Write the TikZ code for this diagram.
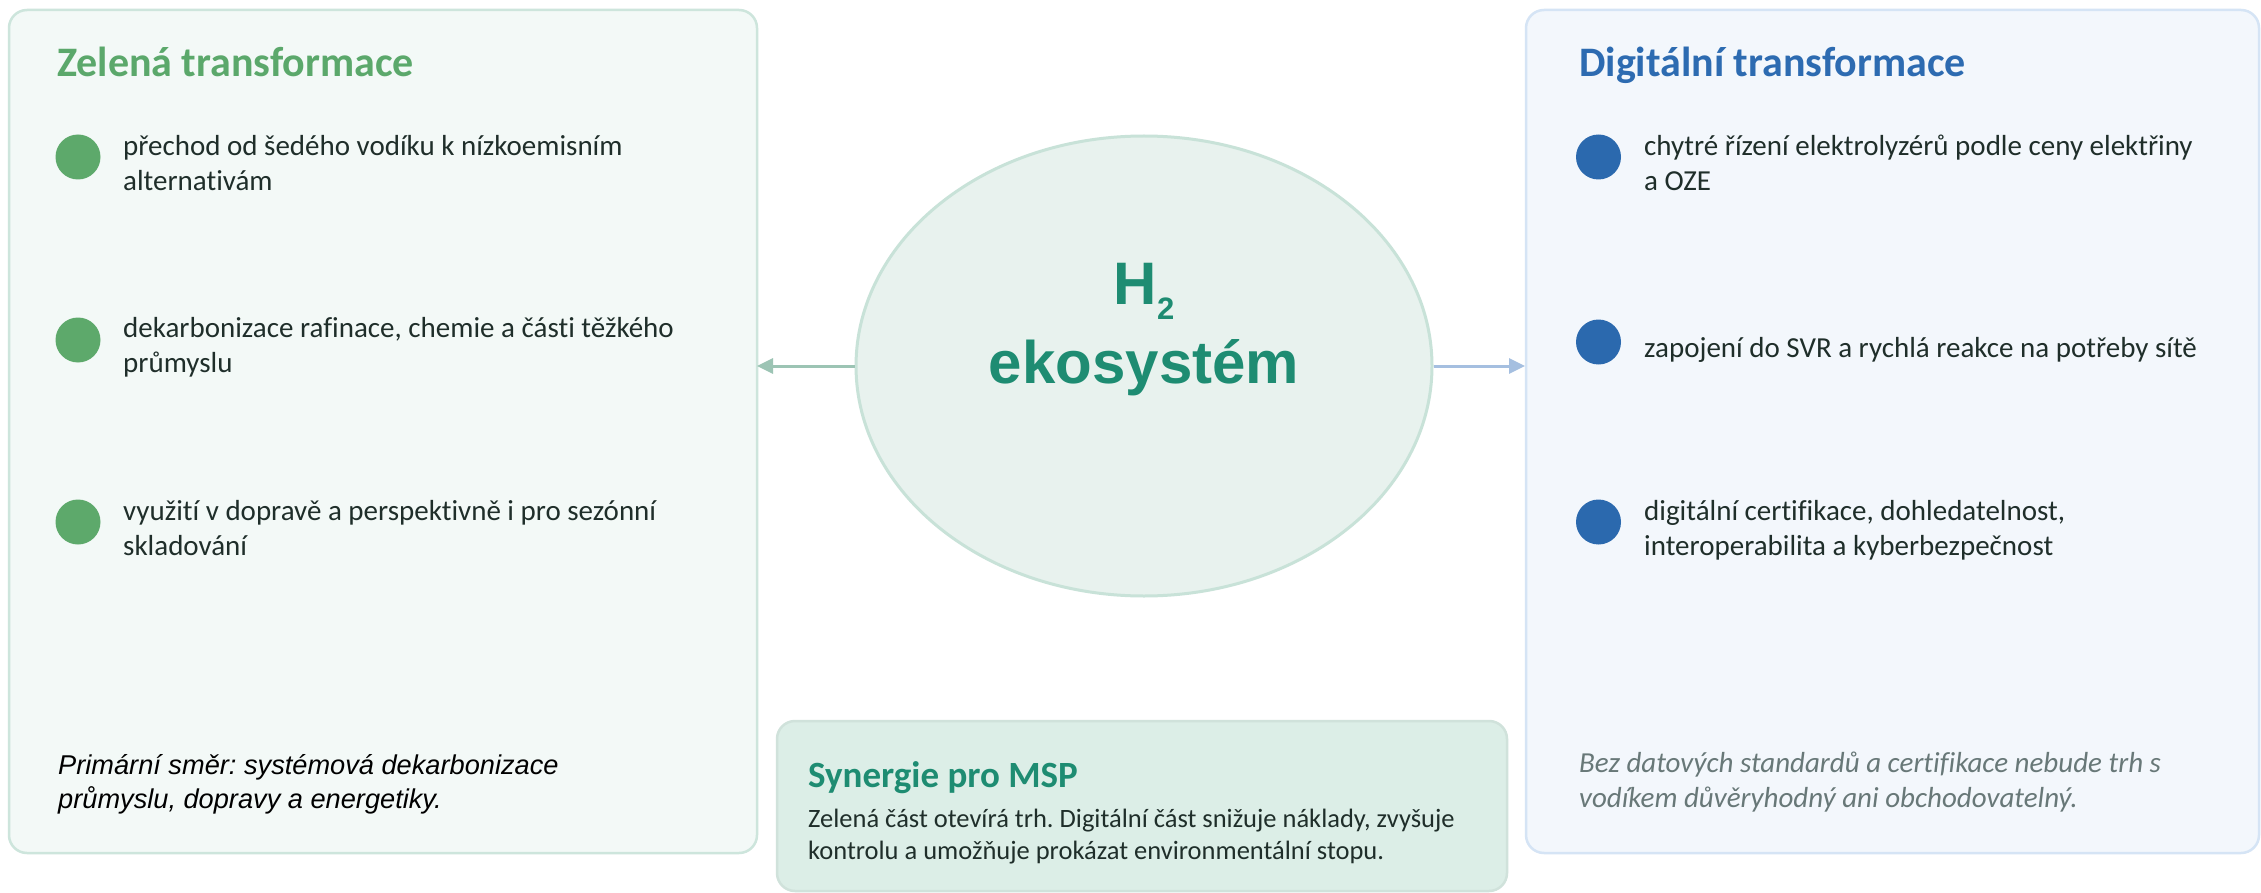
\documentclass[tikz,border=0pt]{standalone}
\usepackage{fontspec}
\setmainfont{Carlito}[Ligatures=NoCommon]
\newfontfamily\hfont{Liberation Sans}
\usetikzlibrary{arrows.meta,shapes.geometric}
\definecolor{leftfill}{HTML}{F3F9F7}
\definecolor{leftborder}{HTML}{CDE5DC}
\definecolor{rightfill}{HTML}{F3F7FC}
\definecolor{rightborder}{HTML}{D5E4F5}
\definecolor{ellfill}{HTML}{E8F2EE}
\definecolor{ellborder}{HTML}{C8E2D8}
\definecolor{synfill}{HTML}{DCEEE7}
\definecolor{synborder}{HTML}{D0E2DB}
\definecolor{greentitle}{HTML}{5BA86B}
\definecolor{greenbullet}{HTML}{5DA96B}
\definecolor{bluetitle}{HTML}{2D6BB1}
\definecolor{bluebullet}{HTML}{2B69AE}
\definecolor{teal}{HTML}{1E8C72}
\definecolor{bodytext}{HTML}{1F2E2A}
\definecolor{graytext}{HTML}{687878}
\definecolor{arrowleft}{HTML}{9CC4B4}
\definecolor{arrowright}{HTML}{A5BFE0}
\tikzset{
  panel/.style={rounded corners=18pt, line width=2.5pt},
  title/.style={anchor=base west, inner sep=0pt, font=\bfseries\fontsize{42}{50}\selectfont},
  item/.style={anchor=base west, inner sep=0pt, align=left, text=bodytext, font=\fontsize{29}{35}\selectfont},
  dot/.style={circle, minimum size=45pt, inner sep=0pt},
  link/.style={line width=3pt, -{Triangle[length=16pt,width=15pt]}},
}
\frenchspacing
\begin{document}
\begin{tikzpicture}[x=1pt,y=-1pt]
\clip (0,0) rectangle (2261,893);
\fill[white] (0,0) rectangle (2261,893);
% panels
\draw[panel, fill=leftfill, draw=leftborder] (9,10) rectangle (757,853);
\coordinate (leftE) at (757,366);
\draw[panel, fill=rightfill, draw=rightborder] (1526,10) rectangle (2259,853);
\coordinate (rightW) at (1525,366);
\draw[panel, fill=synfill, draw=synborder] (777,721) rectangle (1507,891);
% left panel content (base anchor = last line baseline)
\node[title, text=greentitle] (lt) at (57,77) {Zelená transformace};
\node[dot, fill=greenbullet] (lb1) at (78,157) {};
\node[item] (li1) at (123,191) {přechod od šedého vodíku k nízkoemisním\\alternativám};
\node[dot, fill=greenbullet] (lb2) at (78,340) {};
\node[item] (li2) at (123,372) {dekarbonizace rafinace, chemie a části těžkého\\průmyslu};
\node[dot, fill=greenbullet] (lb3) at (78,522) {};
\node[item] (li3) at (123,555) {využití v dopravě a perspektivně i pro sezónní\\skladování};
\node[item, text=black, font=\hfont\itshape\fontsize{27.2}{34}\selectfont] (lf) at (58,808) {Primární směr: systémová dekarbonizace\\průmyslu, dopravy a energetiky.};
% right panel content
\node[title, text=bluetitle] (rt) at (1579,77) {Digitální transformace};
\node[dot, fill=bluebullet] (rb1) at (1598.5,157) {};
\node[item] (ri1) at (1644,191) {chytré řízení elektrolyzérů podle ceny elektřiny\\a OZE};
\node[dot, fill=bluebullet] (rb2) at (1598.5,342) {};
\node[item] (ri2) at (1644,357) {zapojení do SVR a rychlá reakce na potřeby sítě};
\node[dot, fill=bluebullet] (rb3) at (1598.5,522) {};
\node[item] (ri3) at (1644,555) {digitální certifikace, dohledatelnost,\\interoperabilita a kyberbezpečnost};
\node[item, text=graytext, font=\itshape\fontsize{29}{35}\selectfont] (rf) at (1579,807) {Bez datových standardů a certifikace nebude trh s\\vodíkem důvěryhodný ani obchodovatelný.};
% synergy
\node[anchor=base west, inner sep=0pt, text=teal, font=\bfseries\fontsize{37}{44}\selectfont] (st) at (808,787) {Synergie pro MSP};
\node[item, font=\fontsize{26.5}{32}\selectfont] (sb) at (808,859) {Zelená část otevírá trh. Digitální část snižuje náklady, zvyšuje\\kontrolu a umožňuje prokázat environmentální stopu.};
% ellipse
\node[ellipse, minimum width=576pt, minimum height=460pt, inner sep=0pt, fill=ellfill, draw=ellborder, line width=3pt] (eco) at (1144,366) {};
\node[anchor=base, inner sep=0pt, text=teal, font=\hfont\bfseries\fontsize{60}{72}\selectfont] (h2) at (1144,305) {H\raisebox{-14pt}{\fontsize{31}{36}\selectfont 2}};
\node[anchor=base, inner sep=0pt, text=teal, font=\hfont\bfseries\fontsize{60}{72}\selectfont] (ekos) at (1144,383) {ekosystém};
% connectors
\draw[link, draw=arrowleft, fill=arrowleft] (eco.west) -- (leftE);
\draw[link, draw=arrowright, fill=arrowright] (eco.east) -- (rightW);
\end{tikzpicture}
\end{document}
